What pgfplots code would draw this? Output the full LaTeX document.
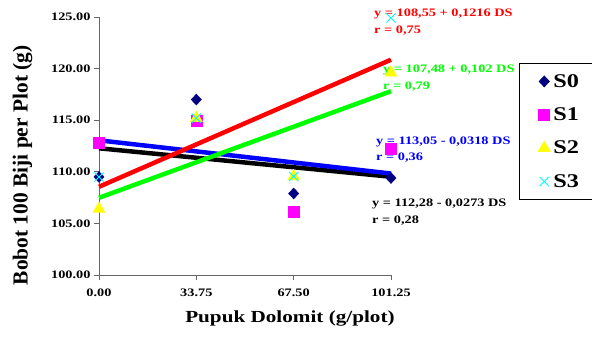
\documentclass[border=0pt]{standalone}
\usepackage{fontspec}
\setmainfont{Liberation Serif}[FakeStretch=1.25]
\newfontfamily\ylabfont{Liberation Serif}
\usepackage{pgfplots}
\usepackage{pgfplotstable}
\pgfplotsset{compat=1.18}
\definecolor{navyc}{HTML}{000080}
\definecolor{magc}{HTML}{FF00FF}
\definecolor{yelc}{HTML}{FFFF00}
\definecolor{cyac}{HTML}{00FFFF}
\definecolor{redc}{HTML}{FF0000}
\definecolor{grnc}{HTML}{00FF00}
\definecolor{bluc}{HTML}{0000FF}
\pgfplotstableread{
x S0 S1 S2 S3
0 109.5 112.8 106.4 109.5
33.75 117.0 114.95 115.2 115.2
67.5 107.9 106.1 109.55 109.55
101.25 109.4 112.25 119.6 124.9
}\data
\pgfplotstableread{
x black blue green red
0 112.28 113.05 107.48 108.55
101.25 109.52 109.83 117.81 120.86
}\trend
\begin{document}
\begin{tikzpicture}
\useasboundingbox (-99bp,-79bp) rectangle (493bp,275bp);
\begin{axis}[
  scale only axis, width=292bp, height=258bp,
  xmin=0, xmax=101.25, ymin=100, ymax=125,
  axis x line=bottom, axis y line=left,
  axis line style={-, draw=gray!80!black, line width=0.8pt},
  xtick={0,33.75,67.5,101.25}, ytick={100,105,110,115,120,125},
  tick align=outside, major tick length=5bp,
  tick style={draw=gray!80!black, line width=0.8pt},
  /pgf/number format/assume math mode=true,
  /pgf/number format/fixed, /pgf/number format/fixed zerofill,
  /pgf/number format/precision=2,
  ticklabel style={font=\bfseries\fontsize{11.5}{13}\selectfont},
  xticklabel style={yshift=-5bp},
  xlabel={Pupuk Dolomit (g/plot)},
  ylabel={Bobot 100 Biji per Plot (g)},
  x label style={at={(axis description cs:0.654,-0.1667)}, anchor=center, font=\bfseries\fontsize{17}{20}\selectfont},
  y label style={at={(axis description cs:-0.262,0.425)}, anchor=center, rotate=0, font=\ylabfont\bfseries\fontsize{21.5}{24}\selectfont},
  clip=false,
  legend style={at={(axis description cs:1.438,0.822)}, anchor=north west, draw=black, line width=0.6pt,
     font=\bfseries\fontsize{19.5}{22}\selectfont, row sep=15bp, inner xsep=19bp, inner ysep=9bp,
     nodes={inner xsep=3bp}},
  legend cell align=left,
]
\addplot[draw=black, line width=4.5pt, forget plot] table[x=x,y=black]{\trend};
\addplot[draw=bluc, line width=4.5pt, forget plot] table[x=x,y=blue]{\trend};
\addplot[draw=redc, line width=4.5pt, forget plot] table[x=x,y=red]{\trend};
\addplot[draw=grnc, line width=4.5pt, forget plot] table[x=x,y=green]{\trend};
\addplot[only marks, mark=diamond*, mark size=5.5bp, mark options={fill=navyc, draw=navyc, xscale=1.25}] table[x=x,y=S0]{\data};
\addplot[only marks, mark=square*, mark size=5.5bp, mark options={fill=magc, draw=magc}] table[x=x,y=S1]{\data};
\addplot[only marks, mark=triangle*, mark size=7bp, mark options={fill=yelc, draw=yelc}] table[x=x,y=S2]{\data};
\addplot[only marks, mark=x, mark size=6.5bp, mark options={draw=cyac, line width=1pt}] table[x=x,y=S3]{\data};
\legend{S0,S1,S2,S3}
\tikzset{ann/.style={anchor=west, inner sep=0pt, font=\bfseries\fontsize{11.5}{13}\selectfont}}
\node[ann, text=redc] at (axis cs:95.36,125.29) {y = 108,55 + 0,1216 DS};
\node[ann, text=redc] at (axis cs:95.36,123.64) {r = 0,75};
\node[ann, text=grnc] at (axis cs:98.48,119.86) {y = 107,48 + 0,102 DS};
\node[ann, text=grnc] at (axis cs:98.48,118.22) {r = 0,79};
\node[ann, text=bluc] at (axis cs:96.05,112.89) {y = 113,05 - 0,0318 DS};
\node[ann, text=bluc] at (axis cs:96.05,111.34) {r = 0,36};
\node[ann, text=black] at (axis cs:94.66,106.88) {y = 112,28 - 0,0273 DS};
\node[ann, text=black] at (axis cs:94.66,105.23) {r = 0,28};
\end{axis}
\end{tikzpicture}
\end{document}
